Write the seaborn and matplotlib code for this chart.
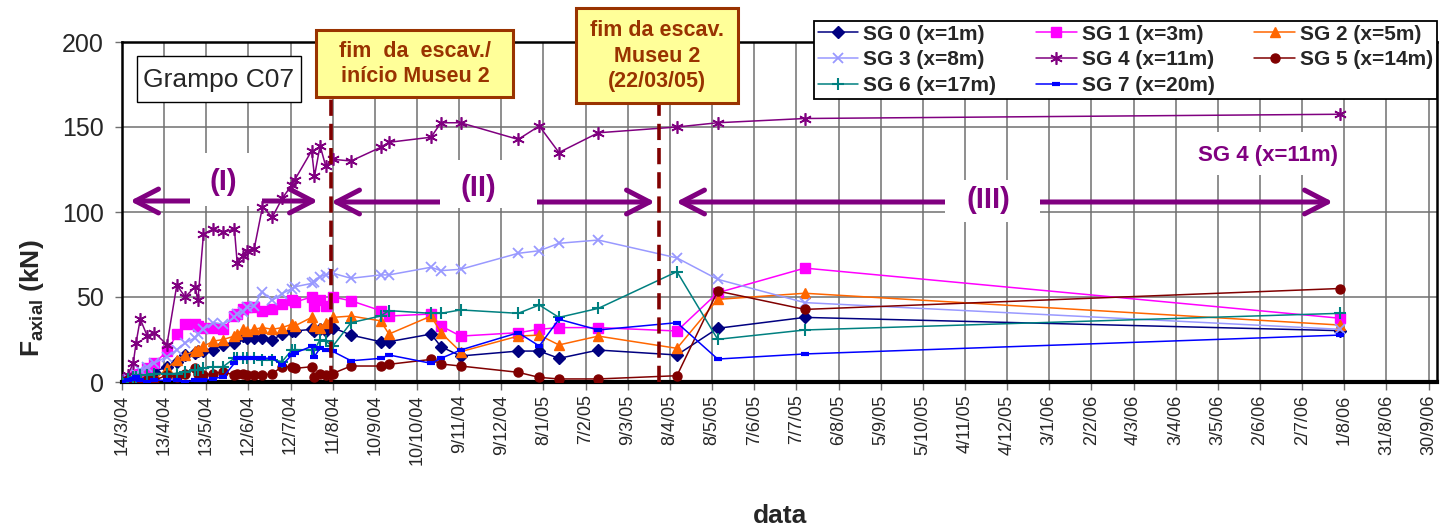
import pandas as pd
import matplotlib
matplotlib.use('Agg')
import matplotlib.pyplot as plt
import matplotlib.dates as mdates
from matplotlib.patches import Rectangle
from matplotlib.ticker import FuncFormatter
import seaborn as sns

# datas das leituras (comuns a todos os SG)
datas = ['2004-03-14', '2004-03-18', '2004-03-22', '2004-03-24', '2004-03-27', '2004-04-01',
         '2004-04-06', '2004-04-15', '2004-04-22', '2004-04-28', '2004-05-05', '2004-05-07',
         '2004-05-11', '2004-05-18', '2004-05-25', '2004-06-02', '2004-06-04', '2004-06-08',
         '2004-06-11', '2004-06-16', '2004-06-22', '2004-06-29', '2004-07-06', '2004-07-13',
         '2004-07-15', '2004-07-27', '2004-07-29', '2004-08-02', '2004-08-06', '2004-08-11',
         '2004-08-24', '2004-09-14', '2004-09-20', '2004-10-20', '2004-10-27', '2004-11-10',
         '2004-12-21', '2005-01-05', '2005-01-19', '2005-02-16', '2005-04-13', '2005-05-12',
         '2005-07-13', '2006-07-29']

sg0 = [0, 1, 2, 2, 3, 4, 6, 9, 12, 16, 17, 18, 18, 19, 22, 23, 26, 27, 26, 26, 26, 25, 28, 30, 30,
       31, 30, 31, 30, 32, 27.6, 23.7, 23.7, 28.2, 20.8, 15.3, 18.2, 18.2, 13.9, 18.8, 15.9, 31.6, 38, 30.2]
sg1 = [0, 2, 3, 4, 5, 8, 11, 18, 28, 34, 34, 33, 32, 32, 31, 39, 40, 43, 44, 44, 42, 43, 46, 48, 47,
       50, 45, 48, 45, 50, 47.8, 42, 38.8, 40, 33, 27, 29, 31, 32, 32, 30, 52.5, 67, 37.5]
sg2 = [0, 1, 0, 1, 2, 3, 1, 8, 13, 16, 18, 19, 21, 24, 25, 27, 28, 31, 30, 31, 32, 31, 32, 34, 33,
       38, 33, 32, 35, 38, 38.8, 36, 28.2, 38.8, 29, 17.8, 27, 27.6, 21.8, 27, 19.8, 48.6, 52.2, 33.5]
sg3 = [0, 2, 3, 5, 7, 9, 11, 15, 19, 23, 26, 28, 31, 35, 34, 38, 40, 41, 44, 45, 53, 48, 52, 55, 56,
       58, 59, 62, 63, 64, 61, 63, 63, 67.5, 65.5, 66.3, 75.7, 77.2, 81.6, 83.5, 73, 60.4, 46.7, 31]
sg4 = [1, 4, 11, 23, 37, 27, 29, 22, 57, 50, 56, 48, 87, 90, 88, 90, 70, 74, 77, 78, 103, 97, 108, 116, 119,
       136, 121, 139, 127, 131, 130, 138, 141, 144, 152.5, 152.5, 142.7, 150.6, 135, 146.6, 150, 152.5, 155, 157.5]
sg5 = [0, 1, 0, 1, 0, 1, 1, 4, 3, 5, 8, 5, 4, 5, 6, 4, 5, 5, 4, 4, 4, 5, 9, 9, 8,
       9, 3, 5, 4, 5, 9.4, 9.4, 10.4, 13.3, 10.6, 9.4, 5.7, 2.7, 1.8, 1.8, 3.7, 53.5, 42.7, 55]
sg6 = [0, 2, 3, 3, 4, 4, 5, 5, 5, 6, 7, 7, 8, 9, 9, 14, 14, 14, 14, 14, 13, 13, 12, 19, 19,
       19, 19, 25, 24, 21, 34.9, 38.8, 42, 40.4, 40.4, 42.4, 40.4, 45.3, 38, 43.3, 64.9, 25.1, 30.6, 40.4]
sg7 = [0, 1, 2, 3, 1, 0, 1, 1, 1, 0, 1, 1, 1, 2, 3, 11, 14, 14, 14, 14, 14, 14, 10, 16, 17,
       21, 15, 20, 19, 18, 12.5, 13.9, 15.9, 11, 13.9, 18.8, 29, 21.2, 36.9, 30.6, 34.9, 13.5, 16.5, 27.6]

series = ['SG 0 (x=1m)', 'SG 1 (x=3m)', 'SG 2 (x=5m)', 'SG 3 (x=8m)',
          'SG 4 (x=11m)', 'SG 5 (x=14m)', 'SG 6 (x=17m)', 'SG 7 (x=20m)']
cores = ['#000080', '#FF00FF', '#FF6600', '#9999FF', '#800080', '#800000', '#008080', '#0000FF']
marcadores = ['D', 's', '^', 'x', (6, 2, 0), 'o', '+', '_']
tamanhos = [6, 6.5, 7.5, 7.5, 9, 6.5, 8, 6]
bordas = [1, 1, 1, 1.3, 1.2, 1, 1.5, 3]

eventos = ['2004-08-10', '2005-03-31']   # linhas tracejadas
inicio, fim = '2004-03-14', '2006-10-06'

df = pd.DataFrame({'data': pd.to_datetime(datas)})
for nome, v in zip(series, [sg0, sg1, sg2, sg3, sg4, sg5, sg6, sg7]):
    df[nome] = v

sns.set_style('white')
plt.rcParams['font.family'] = ['Liberation Sans', 'DejaVu Sans']
plt.rcParams['mathtext.fontset'] = 'custom'
plt.rcParams['mathtext.rm'] = 'Liberation Sans'
plt.rcParams['mathtext.bf'] = 'Liberation Sans:bold'

W, H = 1443, 530
AX_L, AX_R, AX_T, AX_B = 122, 1437, 42, 382


def fig_xy(x, y):
    return x / W, 1 - y / H


def ax_xy(x, y):
    return (x - AX_L) / (AX_R - AX_L), (AX_B - y) / (AX_B - AX_T)


fig = plt.figure(figsize=(W / 100, H / 100), dpi=100)
ax = fig.add_axes([AX_L / W, 1 - AX_B / H, (AX_R - AX_L) / W, (AX_B - AX_T) / H])

for nome, c, m, ms, mew in zip(series, cores, marcadores, tamanhos, bordas):
    sns.lineplot(data=df, x='data', y=nome, ax=ax, color=c, marker=m, markersize=ms,
                 markeredgecolor=c, markerfacecolor=c, markeredgewidth=mew,
                 linewidth=1.1, label=nome, estimator=None, zorder=3)

for ev in eventos:
    ax.axvline(pd.Timestamp(ev), color='#800000', lw=2.6, ls=(0, (4.5, 2.2)), zorder=4)

marcos = pd.date_range(inicio, periods=32, freq='30D')
ax.set_xticks(marcos)
ax.xaxis.set_major_formatter(FuncFormatter(
    lambda x, p: '{0.day}/{0.month}/{0:%y}'.format(mdates.num2date(x))))
ax.set_xlim(pd.Timestamp(inicio), pd.Timestamp(fim))
ax.set_ylim(0, 200)
ax.set_yticks([0, 50, 100, 150, 200])

ax.grid(True, color='#707070', lw=1.1)
ax.set_axisbelow(True)
for s in ax.spines.values():
    s.set_color('black')
    s.set_linewidth(1.8)
ax.spines['bottom'].set_linewidth(3)
ax.tick_params(axis='x', labelsize=13, rotation=90, length=6, width=1, color='#707070',
               pad=3, direction='out', bottom=True)
ax.tick_params(axis='y', labelsize=18, length=5, width=1, color='#707070', pad=8,
               direction='out', left=True)

ax.set_xlabel('data', fontsize=19, fontweight='bold', va='top')
ax.xaxis.set_label_coords(0.5, ax_xy(0, 504)[1])
ax.set_ylabel(r'F$_{\mathbf{axial}}$ (kN)', fontsize=19, fontweight='bold')
ax.yaxis.set_label_coords(ax_xy(46, 0)[0], ax_xy(0, 298)[1])

# setas das fases
seta = dict(arrowstyle='<->,head_length=0.83,head_width=0.43', lw=3.6, color='#800080',
            shrinkA=0, shrinkB=0, mutation_scale=20)
for (x0, x1, y) in [(130, 318, 201), (331, 655, 202), (676, 1333, 202)]:
    ax.annotate('', xy=ax_xy(x0, y), xytext=ax_xy(x1, y), xycoords='axes fraction',
                textcoords='axes fraction', arrowprops=seta, zorder=2.4)

# fundos brancos dos textos das fases
for (x0, y0, x1, y1) in [(190, 153, 262, 206), (440, 160, 537, 208),
                         (945, 180, 1040, 222), (1190, 132, 1343, 175)]:
    a0 = ax_xy(x0, y1)
    a1 = ax_xy(x1, y0)
    ax.add_patch(Rectangle(a0, a1[0] - a0[0], a1[1] - a0[1], transform=ax.transAxes,
                           facecolor='white', edgecolor='none', zorder=2.5))

for txt, (x, y), fs in [('(I)', (223, 182), 21), ('(II)', (478, 188), 21),
                        ('(III)', (988, 200), 21), ('SG 4 (x=11m)', (1268, 155), 16)]:
    ax.text(*ax_xy(x, y), txt, transform=ax.transAxes, ha='center', va='center',
            fontsize=fs, fontweight='bold', color='#800080', zorder=2.6)

# caixas de texto
caixas = [((137, 56, 301, 102), 'white', 'black', 1.0),
          ((316, 30, 513, 97), '#FFFF99', '#993300', 2.2),
          ((576, 8, 738, 103), '#FFFF99', '#993300', 2.2)]
for (x0, y0, x1, y1), fc, ec, lw in caixas:
    p = fig_xy(x0, y1)
    fig.add_artist(Rectangle(p, (x1 - x0) / W, (y1 - y0) / H, transform=fig.transFigure,
                             facecolor=fc, edgecolor=ec, lw=lw, zorder=5))

fig.text(*fig_xy(219, 80), 'Grampo C07', ha='center', va='center', fontsize=19, zorder=6)
fig.text(*fig_xy(415, 64), 'fim  da  escav./\ninício Museu 2', ha='center', va='center',
         fontsize=15.5, fontweight='bold', color='#993300', linespacing=1.25, zorder=6)
fig.text(*fig_xy(657, 56), 'fim da escav.\nMuseu 2\n(22/03/05)', ha='center', va='center',
         fontsize=15.5, fontweight='bold', color='#993300', linespacing=1.25, zorder=6)

# legenda em 3 colunas, preenchida por linhas
h, l = ax.get_legend_handles_labels()
ordem = [0, 3, 6, 1, 4, 7, 2, 5]
leg = ax.legend([h[i] for i in ordem], [l[i] for i in ordem], ncol=3, loc='upper right',
                bbox_to_anchor=fig_xy(1437, 21), bbox_transform=fig.transFigure,
                prop={'weight': 'bold', 'size': 15}, frameon=True, fancybox=False,
                framealpha=1, edgecolor='black', handlelength=1.95, handletextpad=0.25,
                columnspacing=1.9, labelspacing=0.32, borderpad=0.18, borderaxespad=0)
leg.get_frame().set_linewidth(1.3)
leg.set_zorder(7)

fig.savefig('out.png', dpi=100)
